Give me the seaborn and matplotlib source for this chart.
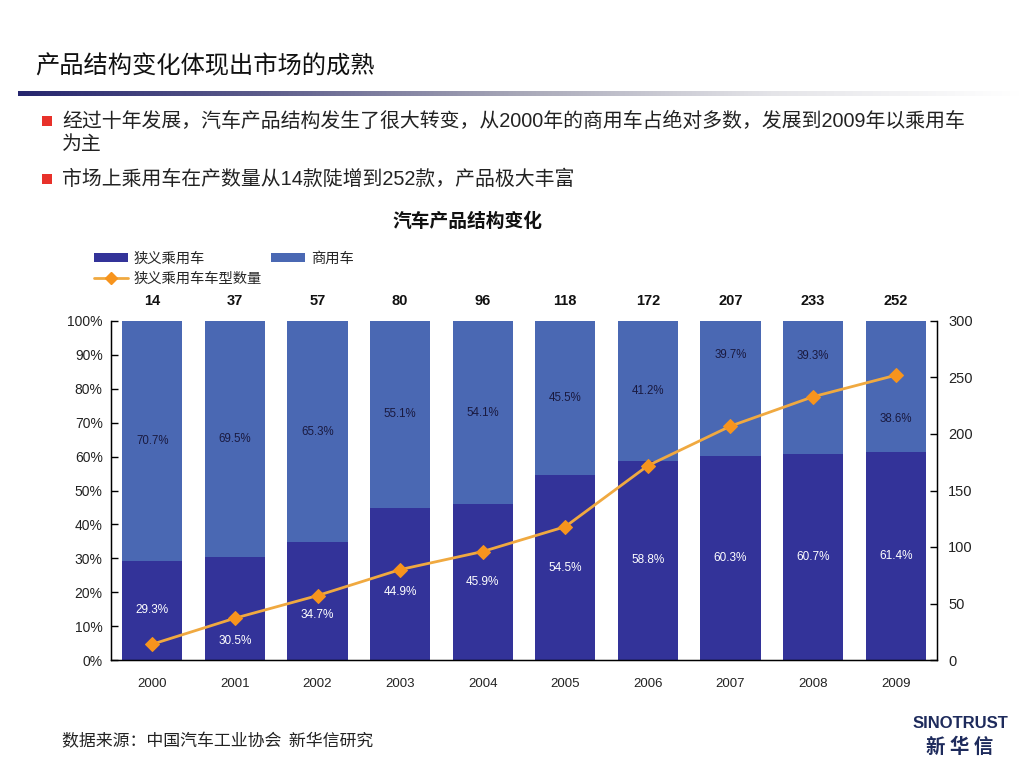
import numpy as np
import pandas as pd
import matplotlib
matplotlib.use("Agg")
import matplotlib.pyplot as plt
import seaborn as sns
from matplotlib.patches import Rectangle, Patch
from matplotlib.lines import Line2D
from matplotlib.colors import LinearSegmentedColormap

# ---------------- data ----------------
years = ["2000", "2001", "2002", "2003", "2004", "2005", "2006", "2007", "2008", "2009"]
passenger_pct = [29.3, 30.5, 34.7, 44.9, 45.9, 54.5, 58.8, 60.3, 60.7, 61.4]
commercial_pct = [70.7, 69.5, 65.3, 55.1, 54.1, 45.5, 41.2, 39.7, 39.3, 38.6]
model_counts = [14, 37, 57, 80, 96, 118, 172, 207, 233, 252]
left_ticks = [0, 10, 20, 30, 40, 50, 60, 70, 80, 90, 100]
right_ticks = [0, 50, 100, 150, 200, 250, 300]

slide_title = "产品结构变化体现出市场的成熟"
bullet1_l1 = "经过十年发展，汽车产品结构发生了很大转变，从2000年的商用车占绝对多数，发展到2009年以乘用车"
bullet1_l2 = "为主"
bullet2 = "市场上乘用车在产数量从14款陡增到252款，产品极大丰富"
chart_title = "汽车产品结构变化"
legend_pass = "狭义乘用车"
legend_comm = "商用车"
legend_line = "狭义乘用车车型数量"
source_text = "数据来源：中国汽车工业协会  新华信研究"

# ---------------- style ----------------
sns.set_style("white")
plt.rcParams["font.family"] = ["Liberation Sans", "Noto Sans CJK SC", "DejaVu Sans"]
CJK = ["Noto Sans CJK SC", "Liberation Sans", "DejaVu Sans"]
CJK_LAT = ["Liberation Sans", "Noto Sans CJK SC", "DejaVu Sans"]

C_PASS = "#333399"
C_COMM = "#4A68B3"
C_LINE = "#F0A940"
C_MARK = "#F7941D"

W, H = 1021, 763
fig = plt.figure(figsize=(W / 100, H / 100), dpi=100)

def fy(py):
    return 1 - py / H

def fx(px):
    return px / W

# slide title
fig.text(fx(35), fy(66), slide_title, fontsize=17.5, family=CJK, color="#111111",
         va="center", ha="left")

# gradient rule
gax = fig.add_axes([fx(18), fy(96), fx(1003), 5 / H])
grad = np.linspace(0, 1, 512)
cmap = LinearSegmentedColormap.from_list("g", ["#26266E", "#5E5E8C", "#A8A8B8", "#E4E4E8", "#FFFFFF"])
gax.imshow(grad[None, :], aspect="auto", cmap=cmap, extent=[0, 1, 0, 1])
gax.set_axis_off()

# bullets
for py in (121, 179):
    fig.patches.append(Rectangle((fx(42), fy(py + 5)), 10 / W, 10 / H, transform=fig.transFigure,
                                 facecolor="#E8312A", edgecolor="none"))
fig.text(fx(62), fy(121), bullet1_l1, fontsize=14.3, family=CJK_LAT, color="#222222", va="center")
fig.text(fx(62), fy(144), bullet1_l2, fontsize=14.3, family=CJK_LAT, color="#222222", va="center")
fig.text(fx(62), fy(179), bullet2, fontsize=14.3, family=CJK_LAT, color="#222222", va="center")

# chart title
fig.text(fx(467), fy(221), chart_title, fontsize=13.5, family=CJK, weight="bold",
         color="#111111", ha="center", va="center")

# ---------------- main chart ----------------
ax = fig.add_axes([fx(111), fy(660), fx(937 - 111), (660 - 321) / H])
df = pd.DataFrame({"year": years, "pass": passenger_pct, "comm": commercial_pct,
                   "count": model_counts})
df["total"] = df["pass"] + df["comm"]

sns.barplot(data=df, x="year", y="total", color=C_COMM, saturation=1, width=0.73,
            ax=ax, edgecolor="none")
sns.barplot(data=df, x="year", y="pass", color=C_PASS, saturation=1, width=0.73,
            ax=ax, edgecolor="none")
ax.set_xlim(-0.5, len(years) - 0.5)
ax.set_ylim(0, 100)
ax.set_xlabel("")
ax.set_ylabel("")
ax.set_yticks(left_ticks)
ax.set_yticklabels([f"{t}%" for t in left_ticks], fontsize=10, color="#222222")
ax.set_xticks(range(len(years)))
ax.set_xticklabels(years, fontsize=9.5, color="#222222")
ax.tick_params(axis="x", length=0, pad=13)
ax.set_xticks(np.arange(0.5, len(years) - 0.5, 1), minor=True)
ax.tick_params(axis="x", which="minor", direction="in", length=5, width=1, color="black")
ax.tick_params(axis="y", direction="in", length=5, width=1, color="black", pad=6)
for s in ["left", "bottom", "right"]:
    ax.spines[s].set_visible(True)
    ax.spines[s].set_color("black")
    ax.spines[s].set_linewidth(1)
ax.spines["top"].set_visible(False)

# in-bar labels (centered, a few nudged like the original)
pass_shift = {1: -9.6, 2: -4.0, 3: -2.4}
comm_shift = {7: 9.7, 8: 9.4, 9: -9.7}
for i, (p, c) in enumerate(zip(passenger_pct, commercial_pct)):
    ax.text(i, p / 2 + pass_shift.get(i, 0), f"{p:.1f}%", ha="center", va="center",
            fontsize=8.5, color="white")
    ax.text(i, p + c / 2 + comm_shift.get(i, 0), f"{c:.1f}%", ha="center", va="center",
            fontsize=8.3, color="#1A1A40")

# count labels above
for i, n in enumerate(model_counts):
    ax.text(i, 105.8, f"{n}", ha="center", va="center", fontsize=10.5, weight="bold",
            color="#111111", clip_on=False)

# secondary axis
ax2 = ax.twinx()
sns.lineplot(x=np.arange(len(years)), y=model_counts, ax=ax2, color=C_LINE, linewidth=2,
             marker="D", markersize=7, markerfacecolor=C_MARK, markeredgecolor=C_MARK)
ax2.set_ylim(0, 300)
ax2.set_yticks(right_ticks)
ax2.set_yticklabels([str(t) for t in right_ticks], fontsize=10.5, color="#222222")
ax2.tick_params(axis="y", direction="in", length=5, width=1, color="black", pad=8)
ax2.set_xlim(-0.5, len(years) - 0.5)
for s in ["left", "bottom", "right"]:
    ax2.spines[s].set_visible(True)
    ax2.spines[s].set_color("black")
ax2.spines["top"].set_visible(False)
ax2.set_ylabel("")

# legend
handles = [Patch(facecolor=C_PASS, edgecolor="none", label=legend_pass),
           Line2D([0], [0], color=C_LINE, lw=2, marker="D", markersize=6,
                  markerfacecolor=C_MARK, markeredgecolor=C_MARK, label=legend_line),
           Patch(facecolor=C_COMM, edgecolor="none", label=legend_comm)]
leg = fig.legend(handles=handles, ncol=2, frameon=False, loc="upper left",
                 bbox_to_anchor=(fx(88), fy(246)), prop={"family": CJK, "size": 10.3},
                 handlelength=2.4, handleheight=0.6, handletextpad=0.4,
                 columnspacing=0.6, labelspacing=0.4, borderaxespad=0)

# source
fig.text(fx(62), fy(741), source_text, fontsize=12.2, family=CJK, color="#222222", va="center")

# logo
fig.text(fx(960), fy(724), "SINOTRUST", fontsize=12, weight="bold", color="#1E2B5C",
         ha="center", va="center")
fig.text(fx(960), fy(747), "新 华 信", fontsize=14, weight="bold", family=CJK,
         color="#1E2B5C", ha="center", va="center")

fig.savefig("out.png", dpi=100)
